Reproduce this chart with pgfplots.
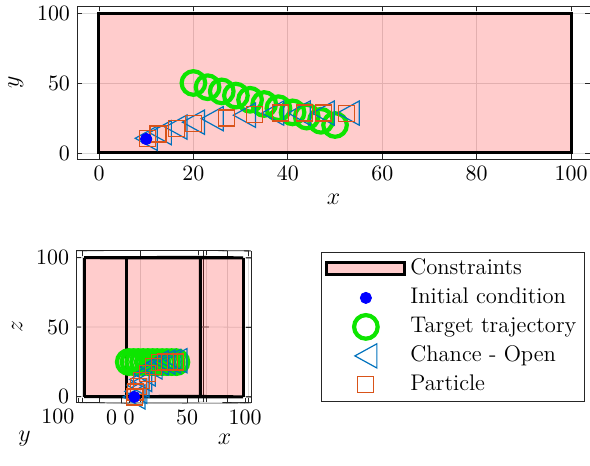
\documentclass[border=0pt]{standalone}
\usepackage{pgfplots}
\usepackage{pgfplotstable}
\pgfplotsset{compat=1.18}
\definecolor{mblue}{rgb}{0,0.447,0.741}
\definecolor{morange}{rgb}{0.85,0.325,0.098}
\definecolor{mgreen}{rgb}{0.05,0.9,0}
\definecolor{axgray}{rgb}{0.15,0.15,0.15}
\pgfdeclareplotmark{ltri}{%
  \pgfpathmoveto{\pgfpoint{-\pgfplotmarksize}{0pt}}%
  \pgfpathlineto{\pgfpoint{\pgfplotmarksize}{1.1\pgfplotmarksize}}%
  \pgfpathlineto{\pgfpoint{\pgfplotmarksize}{-1.1\pgfplotmarksize}}%
  \pgfpathclose
  \pgfusepathqstroke
}
\pgfplotstableread{
x y z
20 50 25
23 47 25
26 44 25
29 41 25
32 38 25
35 35 25
38 32 25
41 29 25
44 26 25
47 23 25
50 20 25
}\target
\pgfplotstableread{
x y z
10 10.5 0
13 14.5 4
16.3 18.5 8.5
20 22 12.5
24 24.5 16.5
30.8 27 21.5
36.8 28.5 24.5
42.4 28.5 25
47.5 28.5 25.5
52.8 28.5 26
}\chance
\pgfplotstableread{
x y z
10.2 10.5 0
12.5 13.5 3.5
16.5 17.5 7.5
20 21 12
27 25 17
33 27.5 22
38.5 28.5 24.5
43.5 28.5 25
47.5 28.5 25
52.5 28 25
}\particle
\pgfplotstableread{
x y z
10 10 0
}\initc
\pgfplotsset{
  mystyle/.style={
    scale only axis,
    axis line style={axgray, line width=0.4pt},
    tick style={axgray, line width=0.4pt},
    tick align=inside,
    major tick length=2.5pt,
    grid=major,
    grid style={black!14, line width=0.4pt},
    tick label style={font=\fontsize{11}{13}\selectfont},
    label style={font=\fontsize{13}{15}\selectfont},
  },
  markimg/.style={legend image code/.code={\draw[mark repeat=2,mark phase=2,##1] plot coordinates {(0pt,0pt)(19.5pt,0pt)(39pt,0pt)};}},
  rectimg/.style={legend image code/.code={\draw[##1] (0pt,-3pt) rectangle (39pt,3pt);}},
  tgt/.style={only marks, mark=o, mark size=5.9pt, mgreen, line width=2.1pt},
  chc/.style={only marks, mark=ltri, mark size=5.5pt, mblue, line width=0.6pt},
  prt/.style={only marks, mark=square, mark size=4pt, morange, line width=0.6pt},
  ini/.style={only marks, mark=*, mark size=2.8pt, blue},
}
\begin{document}
\begin{tikzpicture}
\path[use as bounding box] (0,0) rectangle (295pt,-233pt);
\begin{axis}[mystyle,
  at={(38.5pt,-79.5pt)}, anchor=south west,
  width=256.5pt, height=76.5pt,
  xmin=-4.66, xmax=104, ymin=-4.3, ymax=105,
  xtick={0,20,...,100}, ytick={0,50,100},
  xlabel={$x$}, ylabel={$y$},
  legend cell align=left,
  legend style={at={(0.4756,-0.6078)}, anchor=north west, draw=axgray, line width=0.4pt,
    font=\fontsize{11.3}{13}\selectfont, inner xsep=2pt, inner ysep=1pt, row sep=0pt,
    nodes={text height=8.3pt, text depth=2.7pt, inner ysep=1.75pt}},
]
\addplot[fill=red, fill opacity=0.2, draw=black, line width=1.5pt, rectimg]
  coordinates {(0,0)(100,0)(100,100)(0,100)} -- cycle;
\addlegendentry{Constraints}
\addplot[ini, markimg] table[x=x,y=y] {\initc};
\addlegendentry{Initial condition}
\addplot[tgt, markimg] table[x=x,y=y] {\target};
\addlegendentry{Target trajectory}
\addplot[chc, markimg] table[x=x,y=y] {\chance};
\addlegendentry{Chance - Open}
\addplot[prt, markimg] table[x=x,y=y] {\particle};
\addlegendentry{Particle}
\addplot[ini, forget plot] table[x=x,y=y] {\initc};
\end{axis}
\begin{axis}[mystyle,
  at={(63.5pt,-198.5pt)}, anchor=origin,
  x={(0.58pt,0.0008pt)}, y={(-0.2145pt,0.002pt)}, z={(0pt,0.695pt)},
  xmin=-5, xmax=105, ymin=-5, ymax=105, zmin=-4.3, zmax=105,
  xtick={0,50,100}, ytick={0,100}, ztick={0,50,100},
  extra y ticks={50}, extra y tick labels={},
  xticklabel style={anchor=north},
  yticklabel style={anchor=north east, xshift=1.5pt},
  xlabel={$x$}, ylabel={$y$}, zlabel={$z$},
  ylabel style={xshift=-12.5pt, yshift=7pt},
  xlabel style={yshift=0.5pt},
]
\addplot3[fill=red, fill opacity=0.2, draw=none] coordinates {(0,100,0)(100,0,0)(100,0,100)(0,100,100)} -- cycle;
\addplot3[black, line width=1.5pt] coordinates {(0,0,0)(100,0,0)(100,100,0)(0,100,0)(0,0,0)};
\addplot3[black, line width=1.5pt] coordinates {(0,0,100)(100,0,100)(100,100,100)(0,100,100)(0,0,100)};
\addplot3[black, line width=1.5pt] coordinates {(0,0,0)(0,0,100)};
\addplot3[black, line width=1.5pt] coordinates {(100,0,0)(100,0,100)};
\addplot3[black, line width=1.5pt] coordinates {(0,100,0)(0,100,100)};
\addplot3[black, line width=1.5pt] coordinates {(100,100,0)(100,100,100)};
\addplot3[tgt] table[x=x,y=y,z=z] {\target};
\addplot3[chc] table[x=x,y=y,z=z] {\chance};
\addplot3[prt] table[x=x,y=y,z=z] {\particle};
\addplot3[ini] table[x=x,y=y,z=z] {\initc};
\end{axis}
\end{tikzpicture}
\end{document}
